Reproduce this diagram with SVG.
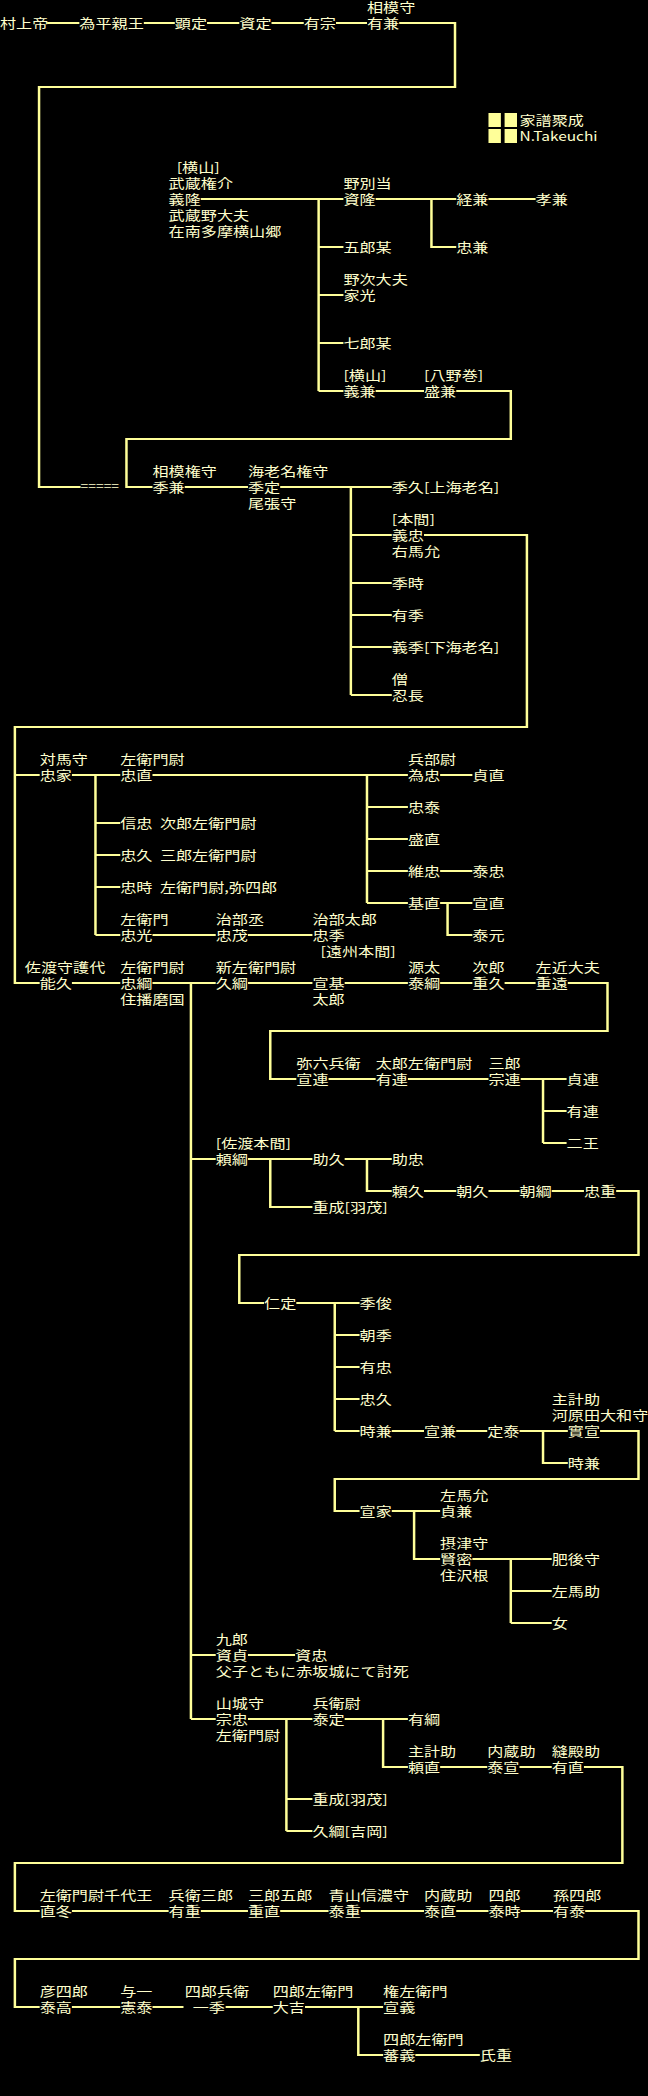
<svg xmlns="http://www.w3.org/2000/svg" width="648" height="2096" viewBox="0 0 648 2096">
<style>
text{font-family:"Noto Sans CJK JP","Noto Sans CJK SC",sans-serif;font-size:13px;fill:#ffffcc}
.c{stroke:#ffff99;stroke-width:2;fill:none}
.sq{fill:#ffff99}
</style>
<rect width="648" height="2096" fill="#000"/>
<g id="diagram" transform="scale(1.2398,1)">
<g id="connectors" class="c">
<path d="M38 23H64M116 23H141M167 23H193M219 23H245M271 23H296M322 23H367V87H31.5V487H65"/>
<path d="M162 199H277M257 199V391M257 247H277M257 295H277M257 343H277M257 391H277M303 199H368M348 199V247H368M394 199H432M303 391H342M368 391H412V439H102V487H123"/>
<path d="M149 487H200M226 487H316M283 487V695M283 535H316M283 583H316M283 615H316M283 647H316M283 695H316M342 535H425V727H12V983H32M12 775H32"/>
<path d="M58 775H97M77 775V935M77 823H97M77 855H97M77 887H97M77 935H97M123 775H329M296 775V903M296 807H329M296 839H329M296 871H329M296 903H329M355 775H381M355 871H381M355 903H381M361 903V935H381M123 935H174M200 935H252"/>
<path d="M58 983H97M123 983H174M154 983V1719M200 983H252M278 983H329M355 983H381M407 983H432M458 983H490V1031H218V1079H239"/>
<path d="M265 1079H303M329 1079H394M420 1079H457M438 1079V1143M438 1111H457M438 1143H457"/>
<path d="M154 1159H174M200 1159H252M218 1159V1207H252M278 1159H316M296 1159V1191H316M342 1191H368M394 1191H419M445 1191H471M497 1191H515V1255H193V1303H213"/>
<path d="M239 1303H290M270 1303V1431M270 1335H290M270 1367H290M270 1399H290M270 1431H290M316 1431H342M368 1431H393M419 1431H458M438 1431V1463H458M484 1431H515V1479H270V1511H290"/>
<path d="M316 1511H355M334 1511V1559H355M381 1559H445M412 1559V1623M412 1591H445M412 1623H445"/>
<path d="M154 1655H174M200 1655H238M154 1719H174M200 1719H252M231 1719V1831M231 1799H252M231 1831H252M278 1719H329M309 1719V1767H329M355 1767H393M419 1767H445M471 1767H502V1863H12V1911H32"/>
<path d="M58 1911H136M162 1911H200M226 1911H265M291 1911H342M368 1911H394M420 1911H446M472 1911H515V1959H12V2007H32"/>
<path d="M58 2007H97M123 2007H148M182 2007H220M246 2007H309M289 2007V2055H309M335 2055H387"/>
</g>
<g id="legend">
<rect class="sq" x="394" y="113" width="10" height="14"/><rect class="sq" x="407" y="113" width="10" height="14"/>
<rect class="sq" x="394" y="129" width="10" height="14"/><rect class="sq" x="407" y="129" width="10" height="14"/>
<text x="419" y="125">家譜聚成</text>
<text x="419" y="141" textLength="63" lengthAdjust="spacingAndGlyphs">N.Takeuchi</text>
</g>
<g id="n_murakami"><text x="0" y="28">村上帝</text></g>
<g id="n_tamehira"><text x="64" y="28">為平親王</text></g>
<g id="n_akisada"><text x="141" y="28">顕定</text></g>
<g id="n_sukesada"><text x="193" y="28">資定</text></g>
<g id="n_arimune"><text x="245" y="28">有宗</text></g>
<g id="n_arikane"><text x="296" y="12">相模守</text><text x="296" y="28">有兼</text></g>
<g id="n_yoshitaka"><text x="142.5" y="172">[横山]</text><text x="136" y="188">武蔵権介</text><text x="136" y="204">義隆</text><text x="136" y="220">武蔵野大夫</text><text x="136" y="236">在南多摩横山郷</text></g>
<g id="n_sukataka"><text x="277" y="188">野別当</text><text x="277" y="204">資隆</text></g>
<g id="n_goro"><text x="277" y="252">五郎某</text></g>
<g id="n_iemitsu"><text x="277" y="284">野次大夫</text><text x="277" y="300">家光</text></g>
<g id="n_shichiro"><text x="277" y="348">七郎某</text></g>
<g id="n_yoshikane"><text x="277" y="380">[横山]</text><text x="277" y="396">義兼</text></g>
<g id="n_tsunekane"><text x="368" y="204">経兼</text></g>
<g id="n_tadakane"><text x="368" y="252">忠兼</text></g>
<g id="n_takakane"><text x="432" y="204">孝兼</text></g>
<g id="n_morikane"><text x="342" y="380">[八野巻]</text><text x="342" y="396">盛兼</text></g>
<g id="n_equals"><text x="65" y="491" textLength="31" lengthAdjust="spacingAndGlyphs">=====</text></g>
<g id="n_suekane"><text x="123" y="476">相模権守</text><text x="123" y="492">季兼</text></g>
<g id="n_suesada"><text x="200" y="476">海老名権守</text><text x="200" y="492">季定</text><text x="200" y="508">尾張守</text></g>
<g id="n_suehisa"><text x="316" y="492">季久[上海老名]</text></g>
<g id="n_yoshitada"><text x="316" y="524">[本間]</text><text x="316" y="540">義忠</text><text x="316" y="556">右馬允</text></g>
<g id="n_suetoki"><text x="316" y="588">季時</text></g>
<g id="n_arisue"><text x="316" y="620">有季</text></g>
<g id="n_yoshisue"><text x="316" y="652">義季[下海老名]</text></g>
<g id="n_ninchou"><text x="316" y="684">僧</text><text x="316" y="700">忍長</text></g>
<g id="n_tadaie"><text x="32" y="764">対馬守</text><text x="32" y="780">忠家</text></g>
<g id="n_tadanao"><text x="97" y="764">左衛門尉</text><text x="97" y="780">忠直</text></g>
<g id="n_nobutada"><text x="97" y="828">信忠<tspan x="129">次郎左衛門尉</tspan></text></g>
<g id="n_tadahisa"><text x="97" y="860">忠久<tspan x="129">三郎左衛門尉</tspan></text></g>
<g id="n_tadatoki"><text x="97" y="892">忠時<tspan x="129">左衛門尉,弥四郎</tspan></text></g>
<g id="n_tadamitsu"><text x="97" y="924">左衛門</text><text x="97" y="940">忠光</text></g>
<g id="n_tadashige"><text x="174" y="924">治部丞</text><text x="174" y="940">忠茂</text></g>
<g id="n_tadasue"><text x="252" y="924">治部太郎</text><text x="252" y="940">忠季</text><text x="258.5" y="956">[遠州本間]</text></g>
<g id="n_tametada"><text x="329" y="764">兵部尉</text><text x="329" y="780">為忠</text></g>
<g id="n_sadanao"><text x="381" y="780">貞直</text></g>
<g id="n_tadayasu"><text x="329" y="812">忠泰</text></g>
<g id="n_morinao"><text x="329" y="844">盛直</text></g>
<g id="n_koretada"><text x="329" y="876">維忠</text></g>
<g id="n_yasutada"><text x="381" y="876">泰忠</text></g>
<g id="n_motonao"><text x="329" y="908">基直</text></g>
<g id="n_nobunao"><text x="381" y="908">宣直</text></g>
<g id="n_yasumoto"><text x="381" y="940">泰元</text></g>
<g id="n_yoshihisa"><text x="20" y="972">佐渡守護代</text><text x="32" y="988">能久</text></g>
<g id="n_tadatsuna"><text x="97" y="972">左衛門尉</text><text x="97" y="988">忠綱</text><text x="97" y="1004">住播磨国</text></g>
<g id="n_hisatsuna"><text x="174" y="972">新左衛門尉</text><text x="174" y="988">久綱</text></g>
<g id="n_nobumoto"><text x="252" y="988">宣基</text><text x="252" y="1004">太郎</text></g>
<g id="n_yasutsuna"><text x="329" y="972">源太</text><text x="329" y="988">泰綱</text></g>
<g id="n_shigehisa"><text x="381" y="972">次郎</text><text x="381" y="988">重久</text></g>
<g id="n_shigetoo"><text x="432" y="972">左近大夫</text><text x="432" y="988">重遠</text></g>
<g id="n_nobutsura"><text x="239" y="1068">弥六兵衛</text><text x="239" y="1084">宣連</text></g>
<g id="n_aritsura"><text x="303" y="1068">太郎左衛門尉</text><text x="303" y="1084">有連</text></g>
<g id="n_munetsura"><text x="394" y="1068">三郎</text><text x="394" y="1084">宗連</text></g>
<g id="n_sadatsura"><text x="457" y="1084">貞連</text></g>
<g id="n_aritsura2"><text x="457" y="1116">有連</text></g>
<g id="n_nio"><text x="457" y="1148">二王</text></g>
<g id="n_yoritsuna"><text x="174" y="1148">[佐渡本間]</text><text x="174" y="1164">頼綱</text></g>
<g id="n_sukehisa"><text x="252" y="1164">助久</text></g>
<g id="n_suketada"><text x="316" y="1164">助忠</text></g>
<g id="n_yorihisa"><text x="316" y="1196">頼久</text></g>
<g id="n_tomohisa"><text x="368" y="1196">朝久</text></g>
<g id="n_tomotsuna"><text x="419" y="1196">朝綱</text></g>
<g id="n_tadashige2"><text x="471" y="1196">忠重</text></g>
<g id="n_shigenari"><text x="252" y="1212">重成[羽茂]</text></g>
<g id="n_ninjo"><text x="213" y="1308">仁定</text></g>
<g id="n_suetoshi"><text x="290" y="1308">季俊</text></g>
<g id="n_tomosue"><text x="290" y="1340">朝季</text></g>
<g id="n_aritada"><text x="290" y="1372">有忠</text></g>
<g id="n_tadahisa2"><text x="290" y="1404">忠久</text></g>
<g id="n_tokikane"><text x="290" y="1436">時兼</text></g>
<g id="n_nobukane"><text x="342" y="1436">宣兼</text></g>
<g id="n_sadayasu"><text x="393" y="1436">定泰</text></g>
<g id="n_sanenobu"><text x="445" y="1404">主計助</text><text x="445" y="1420">河原田大和守</text><text x="458" y="1436">實宣</text></g>
<g id="n_tokikane2"><text x="458" y="1468">時兼</text></g>
<g id="n_nobuie"><text x="290" y="1516">宣家</text></g>
<g id="n_sadakane"><text x="355" y="1500">左馬允</text><text x="355" y="1516">貞兼</text></g>
<g id="n_kenmitsu"><text x="355" y="1548">摂津守</text><text x="355" y="1564">賢密</text><text x="355" y="1580">住沢根</text></g>
<g id="n_higonokami"><text x="445" y="1564">肥後守</text></g>
<g id="n_samanosuke"><text x="445" y="1596">左馬助</text></g>
<g id="n_onna"><text x="445" y="1628">女</text></g>
<g id="n_sukesada2"><text x="174" y="1644">九郎</text><text x="174" y="1660">資貞</text><text x="174" y="1676">父子ともに赤坂城にて討死</text></g>
<g id="n_suketada2"><text x="238" y="1660">資忠</text></g>
<g id="n_munetada"><text x="174" y="1708">山城守</text><text x="174" y="1724">宗忠</text><text x="174" y="1740">左衛門尉</text></g>
<g id="n_yasusada"><text x="252" y="1708">兵衛尉</text><text x="252" y="1724">泰定</text></g>
<g id="n_aritsuna"><text x="329" y="1724">有綱</text></g>
<g id="n_yorinao"><text x="329" y="1756">主計助</text><text x="329" y="1772">頼直</text></g>
<g id="n_yasunobu"><text x="393" y="1756">内蔵助</text><text x="393" y="1772">泰宣</text></g>
<g id="n_arinao"><text x="445" y="1756">縫殿助</text><text x="445" y="1772">有直</text></g>
<g id="n_shigenari2"><text x="252" y="1804">重成[羽茂]</text></g>
<g id="n_hisatsuna2"><text x="252" y="1836">久綱[吉岡]</text></g>
<g id="n_tadafuyu"><text x="32" y="1900">左衛門尉千代王</text><text x="32" y="1916">直冬</text></g>
<g id="n_arishige"><text x="136" y="1900">兵衛三郎</text><text x="136" y="1916">有重</text></g>
<g id="n_shigenao"><text x="200" y="1900">三郎五郎</text><text x="200" y="1916">重直</text></g>
<g id="n_yasushige"><text x="265" y="1900">青山信濃守</text><text x="265" y="1916">泰重</text></g>
<g id="n_yasunao"><text x="342" y="1900">内蔵助</text><text x="342" y="1916">泰直</text></g>
<g id="n_yasutoki"><text x="394" y="1900">四郎</text><text x="394" y="1916">泰時</text></g>
<g id="n_ariyasu"><text x="446" y="1900">孫四郎</text><text x="446" y="1916">有泰</text></g>
<g id="n_yasutaka"><text x="32" y="1996">彦四郎</text><text x="32" y="2012">泰高</text></g>
<g id="n_noriyasu"><text x="97" y="1996">与一</text><text x="97" y="2012">憲泰</text></g>
<g id="n_ikki"><text x="149" y="1996">四郎兵衛</text><text x="155.5" y="2012">一季</text></g>
<g id="n_daikichi"><text x="220" y="1996">四郎左衛門</text><text x="220" y="2012">大吉</text></g>
<g id="n_nobuyoshi"><text x="309" y="1996">権左衛門</text><text x="309" y="2012">宣義</text></g>
<g id="n_shigeyoshi"><text x="309" y="2044">四郎左衛門</text><text x="309" y="2060">蕃義</text></g>
<g id="n_ujishige"><text x="387" y="2060">氏重</text></g>
</g>
</svg>
